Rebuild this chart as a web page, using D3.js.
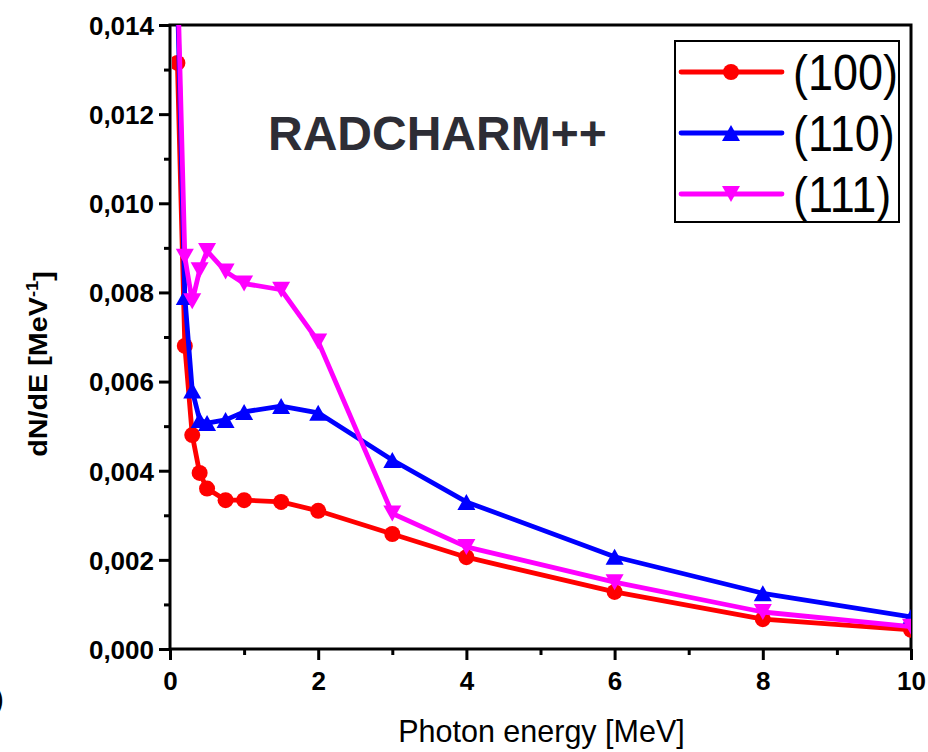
<!DOCTYPE html>
<html>
<head>
<meta charset="utf-8">
<script src="https://cdn.jsdelivr.net/npm/d3@7"></script>
<style>
    body { margin: 0; background: white; }
    svg { display: block; font-family: "Liberation Sans", Arial, sans-serif; }
</style>
</head>
<body>
<div id="chart"></div>
<script>
// photon energy [MeV]
const energies = [0.1, 0.2, 0.3, 0.4, 0.5, 0.75, 1, 1.5, 2, 3, 4, 6, 8, 10];
// dN/dE [MeV^-1] for each crystal plane
const plane100 = [0.01315, 0.0068, 0.0048, 0.00395, 0.0036, 0.00334, 0.00334, 0.0033, 0.0031, 0.00258, 0.00206, 0.00128, 0.00067, 0.00043];
const plane110 = [0.0147, 0.0079, 0.0058, 0.00514, 0.00507, 0.00514, 0.00532, 0.00545, 0.0053, 0.00424, 0.0033, 0.00207, 0.00125, 0.00072];
const plane111 = [0.0152, 0.0088, 0.0078, 0.0085, 0.00893, 0.00847, 0.0082, 0.00806, 0.0069, 0.00304, 0.00229, 0.0015, 0.00083, 0.0005];
const seriesNames = ["(100)", "(110)", "(111)"];
const xTicks = [0, 2, 4, 6, 8, 10];
const yTicks = [0, 0.002, 0.004, 0.006, 0.008, 0.010, 0.012, 0.014];

const width = 928, height = 752;
const margin = {left: 170, right: 17, top: 25, bottom: 103};
const series = [
    {name: seriesNames[0], vals: plane100, color: "#ff0000", shape: "circle"},
    {name: seriesNames[1], vals: plane110, color: "#0000ff", shape: "up"},
    {name: seriesNames[2], vals: plane111, color: "#ff00ff", shape: "down"}
];

const svg = d3.select("#chart").append("svg")
    .attr("width", width).attr("height", height)
    .attr("viewBox", [0, 0, width, height].join(","));
svg.append("rect").attr("width", width).attr("height", height).attr("fill", "white");

const xscale = d3.scaleLinear().domain([0, 10]).range([margin.left, width - margin.right]);
const yscale = d3.scaleLinear().domain([0, 0.014]).range([height - margin.bottom, margin.top]);
const fmtY = d => d3.format(".3f")(d).replace(".", ",");

/** marker path centred on 0,0 */
const markerPath = (shape) => {
    if (shape === "circle") return d3.symbol(d3.symbolCircle, Math.PI * 8 * 8)();
    const w = 9, h = 8;
    return shape === "up"
        ? `M0,${-h}L${w},${h}L${-w},${h}Z`
        : `M0,${h}L${w},${-h}L${-w},${-h}Z`;
};

// clip to the frame
svg.append("clipPath").attr("id", "plotClip")
    .append("rect")
    .attr("x", xscale(0) + 2).attr("y", yscale(0.014))
    .attr("width", xscale(10) - xscale(0) - 2)
    .attr("height", yscale(0) - yscale(0.014));

// AXES
const xAxis = svg.append("g").attr("class", "xaxis")
    .attr("transform", `translate(0,${yscale(0)})`)
    .call(d3.axisBottom(xscale).tickValues(xTicks).tickSize(11).tickPadding(12).tickFormat(d3.format("d")));
svg.append("g").attr("class", "xminor")
    .attr("transform", `translate(0,${yscale(0)})`)
    .call(d3.axisBottom(xscale).tickValues([1, 3, 5, 7, 9]).tickSize(6).tickFormat(""));
const yAxis = svg.append("g").attr("class", "yaxis")
    .attr("transform", `translate(${xscale(0)},0)`)
    .call(d3.axisLeft(yscale).tickValues(yTicks).tickSize(11).tickPadding(5).tickFormat(fmtY));
svg.append("g").attr("class", "yminor")
    .attr("transform", `translate(${xscale(0)},0)`)
    .call(d3.axisLeft(yscale).tickValues(d3.range(0.001, 0.014, 0.002)).tickSize(6).tickFormat(""));
svg.selectAll(".xaxis, .xminor, .yaxis, .yminor").each(function () {
    const g = d3.select(this);
    g.select(".domain").remove();
    g.selectAll("line").attr("stroke", "black").attr("stroke-width", 3);
    g.selectAll("text").attr("fill", "black").style("font-size", "26px").style("font-weight", "bold");
});
yAxis.selectAll("text").attr("dy", "0.36em");
xAxis.selectAll("text").attr("dy", "0.71em");

// frame
svg.append("rect")
    .attr("x", xscale(0)).attr("y", yscale(0.014))
    .attr("width", xscale(10) - xscale(0)).attr("height", yscale(0) - yscale(0.014))
    .attr("fill", "none").attr("stroke", "black").attr("stroke-width", 3);

// LINES
const plot = svg.append("g").attr("clip-path", "url(#plotClip)");
const line = d3.line().x((d, i) => xscale(energies[i])).y(d => yscale(d));
series.forEach(s => {
    plot.append("path")
        .datum(s.vals)
        .attr("d", line)
        .attr("fill", "none")
        .attr("stroke", s.color)
        .attr("stroke-width", 4.8)
        .attr("stroke-linejoin", "round");
    plot.selectAll(null)
        .data(s.vals)
        .join("path")
        .attr("transform", (d, i) => `translate(${xscale(energies[i])},${yscale(d)})`)
        .attr("d", markerPath(s.shape))
        .attr("fill", s.color);
});

// TITLE
svg.append("text")
    .attr("x", 268).attr("y", 150)
    .attr("fill", "#2d2d35")
    .style("font-size", "48px").style("font-weight", "bold")
    .text("RADCHARM++");

// LEGEND
const legend = svg.append("g").attr("transform", "translate(675,41)");
legend.append("rect")
    .attr("width", 224).attr("height", 181)
    .attr("fill", "white").attr("stroke", "black").attr("stroke-width", 2);
series.forEach((s, i) => {
    const y = 31 + i * 61;
    legend.append("line")
        .attr("x1", 6).attr("x2", 107).attr("y1", y).attr("y2", y)
        .attr("stroke", s.color).attr("stroke-width", 4.8).attr("stroke-linecap", "round");
    legend.append("path")
        .attr("transform", `translate(56,${y})`)
        .attr("d", markerPath(s.shape))
        .attr("fill", s.color);
    legend.append("text")
        .attr("transform", `translate(118,${y + 18}) scale(1,1.1)`)
        .attr("fill", "black")
        .style("font-size", "45px")
        .text(s.name);
});

// AXIS TITLES
svg.append("text")
    .attr("x", (xscale(0) + xscale(10)) / 2 + 1).attr("y", 742)
    .attr("text-anchor", "middle").attr("fill", "black")
    .style("font-size", "30.5px")
    .text("Photon energy [MeV]");
const ylab = svg.append("text")
    .attr("transform", "translate(47,364) rotate(-90) scale(1.15,1)")
    .attr("text-anchor", "middle").attr("fill", "black")
    .style("font-size", "25px").style("font-weight", "bold");
ylab.append("tspan").text("dN/dE [MeV");
ylab.append("tspan").attr("dy", "-0.55em").style("font-size", "16px").text("-1");
ylab.append("tspan").attr("dy", "0.55em").text("]");

// stray glyph cut at the left edge
svg.append("text")
    .attr("x", 4).attr("y", 709)
    .attr("text-anchor", "end").attr("fill", "black")
    .style("font-size", "30px")
    .text(")");
</script>
</body>
</html>
